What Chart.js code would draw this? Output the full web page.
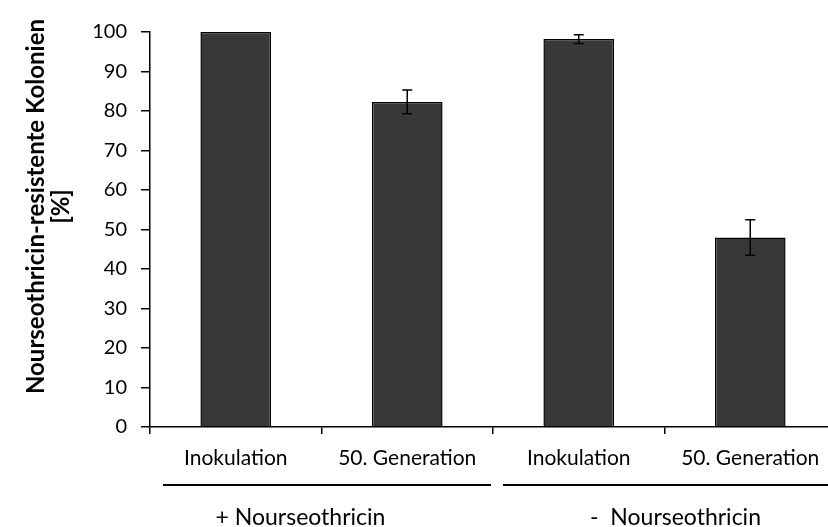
<!DOCTYPE html>
<html>
<head>
<meta charset="utf-8">
<script src="https://cdn.jsdelivr.net/npm/chart.js@4.4.1/dist/chart.umd.min.js"></script>
<style>
  html, body { margin: 0; padding: 0; background: #fff; overflow: hidden; }
  #wrap { width: 828px; height: 527px; overflow: hidden; position: relative; }
  canvas { display: block; }
</style>
</head>
<body>
<div id="wrap"><canvas id="c" width="840" height="527" style="width:840px;height:527px"></canvas></div>
<script>
// ---- data ----
const categories = ['Inokulation', '50. Generation', 'Inokulation', '50. Generation'];
const values = [100, 82.3, 98.2, 48.0];
const errors = [0, 3.0, 1.1, 4.5];
const groupLabels = ['+ Nourseothricin', '-  Nourseothricin'];
const groupSizes = [2, 2];
const yTitle = ['Nourseothricin-resistente Kolonien', '[%]'];

const FONT = 'Lato, "Liberation Sans", sans-serif';

const errorBars = {
  id: 'errorBars',
  afterDatasetsDraw(chart) {
    const ctx = chart.ctx;
    const meta = chart.getDatasetMeta(0);
    const ys = chart.scales.y;
    ctx.save();
    ctx.strokeStyle = '#000';
    ctx.lineWidth = 1.5;
    meta.data.forEach((el, i) => {
      const e = errors[i];
      if (!e) return;
      const v = values[i];
      const top = ys.getPixelForValue(v + e);
      const bot = ys.getPixelForValue(v - e);
      const cap = 5;
      ctx.beginPath();
      ctx.moveTo(el.x, top); ctx.lineTo(el.x, bot);
      ctx.moveTo(el.x - cap, top); ctx.lineTo(el.x + cap, top);
      ctx.moveTo(el.x - cap, bot); ctx.lineTo(el.x + cap, bot);
      ctx.stroke();
    });
    ctx.restore();
  }
};

const yTitlePlugin = {
  id: 'yTitlePlugin',
  afterDraw(chart) {
    const ctx = chart.ctx;
    const ca = chart.chartArea;
    const cy = (ca.top + ca.bottom) / 2 - 23;
    const xs = [36.5, 61];
    ctx.save();
    ctx.fillStyle = '#000';
    ctx.font = 'bold 24px ' + FONT;
    ctx.textAlign = 'center';
    ctx.textBaseline = 'middle';
    yTitle.forEach((t, i) => {
      ctx.save();
      ctx.translate(xs[i], cy);
      ctx.rotate(-Math.PI / 2);
      ctx.fillText(t, 0, 0);
      ctx.restore();
    });
    ctx.restore();
  }
};

const groupAxis = {
  id: 'groupAxis',
  afterDraw(chart) {
    const ctx = chart.ctx;
    const xs = chart.scales.x;
    const catW = (xs.right - xs.left) / categories.length;
    const lineY = xs.top + 58;
    const textY = xs.top + 98;
    const insets = [[13, -2], [10, 0]];
    const textShift = [-21, 11];
    let start = 0;
    ctx.save();
    ctx.strokeStyle = '#000';
    ctx.lineWidth = 2;
    ctx.fillStyle = '#000';
    ctx.font = '23px ' + FONT;
    ctx.textAlign = 'center';
    ctx.textBaseline = 'alphabetic';
    groupLabels.forEach((lab, g) => {
      const x0 = xs.left + start * catW;
      const x1 = xs.left + (start + groupSizes[g]) * catW;
      ctx.beginPath();
      ctx.moveTo(x0 + insets[g][0], lineY);
      ctx.lineTo(x1 + insets[g][1], lineY);
      ctx.stroke();
      ctx.fillText(lab, (x0 + x1) / 2 + textShift[g], textY);
      start += groupSizes[g];
    });
    ctx.restore();
  }
};

new Chart(document.getElementById('c'), {
  type: 'bar',
  data: {
    labels: categories,
    datasets: [{
      data: values,
      backgroundColor: '#383838',
      borderColor: '#000',
      borderWidth: 1.5,
      barPercentage: 0.412,
      categoryPercentage: 1.0
    }]
  },
  options: {
    responsive: false,
    devicePixelRatio: 1,
    animation: false,
    layout: { padding: { left: 0, right: 4, top: 32, bottom: 0 } },
    plugins: { legend: { display: false }, tooltip: { enabled: false } },
    scales: {
      x: {
        afterFit(s) { s.height = 100; },
        grid: { display: true, drawOnChartArea: false, offset: true, tickLength: 7, color: '#000', lineWidth: 1.5 },
        border: { display: true, color: '#000', width: 1.5 },
        ticks: { color: '#000', font: { family: FONT, size: 21 }, padding: 12, maxRotation: 0, autoSkip: false }
      },
      y: {
        min: 0, max: 100,
        afterFit(s) { s.width = 150; },
        grid: { display: true, drawOnChartArea: false, tickLength: 9, color: '#000', lineWidth: 1.5 },
        border: { display: true, color: '#000', width: 1.5 },
        ticks: { stepSize: 10, color: '#000', font: { family: FONT, size: 20 }, padding: 14 },
        title: { display: false }
      }
    }
  },
  plugins: [errorBars, yTitlePlugin, groupAxis]
});
</script>
</body>
</html>
